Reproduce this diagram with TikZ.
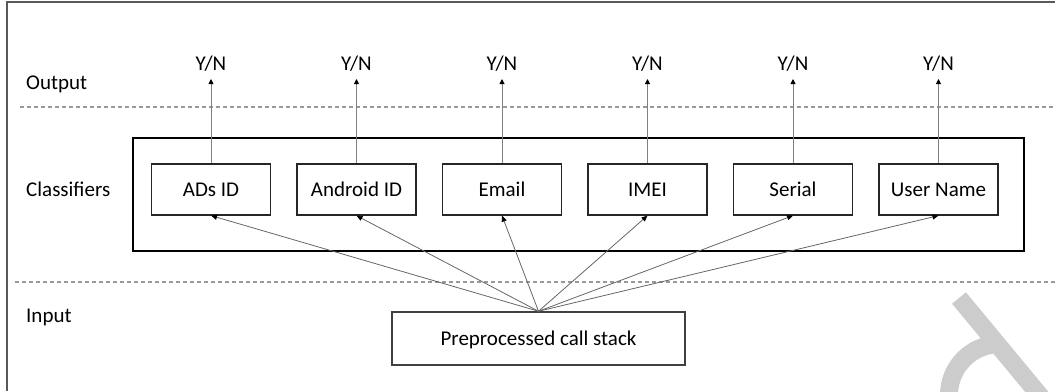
\documentclass[tikz,border=0pt]{standalone}
\usepackage{fontspec}
\setmainfont{Carlito}
\usetikzlibrary{arrows.meta}
\begin{document}
\begin{tikzpicture}[x=1pt,y=-1pt,
  every node/.style={font=\fontsize{21}{25}\selectfont},
  clsbox/.style={draw=black!85, line width=1.2pt, minimum width=119pt, minimum height=51pt, inner sep=0pt, text depth=0pt},
  stackbox/.style={draw=black!75, line width=1.5pt, minimum width=293pt, minimum height=53pt, inner sep=0pt, text depth=0pt},
  panelbox/.style={draw=black, line width=1.4pt, minimum width=891pt, minimum height=113pt, inner sep=0pt},
  lbl/.style={anchor=base west, inner sep=0pt},
  yn/.style={anchor=base, inner sep=0pt},
  uparrow/.style={draw=black!50, line width=0.9pt, -{Triangle[length=5pt,width=5pt,color=black]}},
  inarrow/.style={draw=black!60, line width=0.8pt, -{Triangle[length=6pt,width=5pt,color=black]}},
  sepline/.style={draw=black!40, line width=1.2pt, dash pattern=on 4pt off 3pt},
  frameline/.style={draw=black!65, line width=2pt},
  wmark/.style={draw=black!20, line width=18pt}
]
\useasboundingbox (0,0) rectangle (1055,391);
% watermark fragment
\begin{scope}
  \clip (0,0) rectangle (1055,391);
  \draw[wmark] (959,298) -- (1070,432);
  \draw[wmark] (1000,395) ++(262:51) arc[start angle=262, end angle=160, radius=51];
\end{scope}
% frame
\coordinate (fa) at (6.5,391);
\coordinate (fb) at (6.5,1.5);
\coordinate (fc) at (1055,1.5);
\draw[frameline] (fa) -- (fb) -- (fc);
% separators
\coordinate (s1a) at (20,107);
\coordinate (s1b) at (1055,107);
\coordinate (s2a) at (15,282);
\coordinate (s2b) at (1055,282);
\draw[sepline] (s1a) -- (s1b);
\draw[sepline] (s2a) -- (s2b);
% row labels
\node[lbl] (lout) at (26,89) {Output};
\node[lbl] (lcls) at (26,196) {Classifiers};
\node[lbl] (lin) at (26,322) {Input};
% classifier panel
\node[panelbox] (panel) at (578.5,194.5) {};
% input box
\node[stackbox] (stack) at (538.5,338.5) {Preprocessed call stack};
% classifiers, outputs and connectors
\foreach \i/\x/\t in {1/211/ADs ID, 2/356.5/Android ID, 3/502/Email, 4/647.5/IMEI, 5/793/Serial, 6/938.5/User Name} {
  \node[clsbox] (b\i) at (\x,189.5) {\t};
  \coordinate (t\i) at (\x,79);
  \node[yn] (y\i) at (\x,70.5) {Y/N};
  \draw[uparrow] (b\i.north) -- (t\i);
  \draw[inarrow] (stack.north) -- (b\i.south);
}
\end{tikzpicture}
\end{document}
